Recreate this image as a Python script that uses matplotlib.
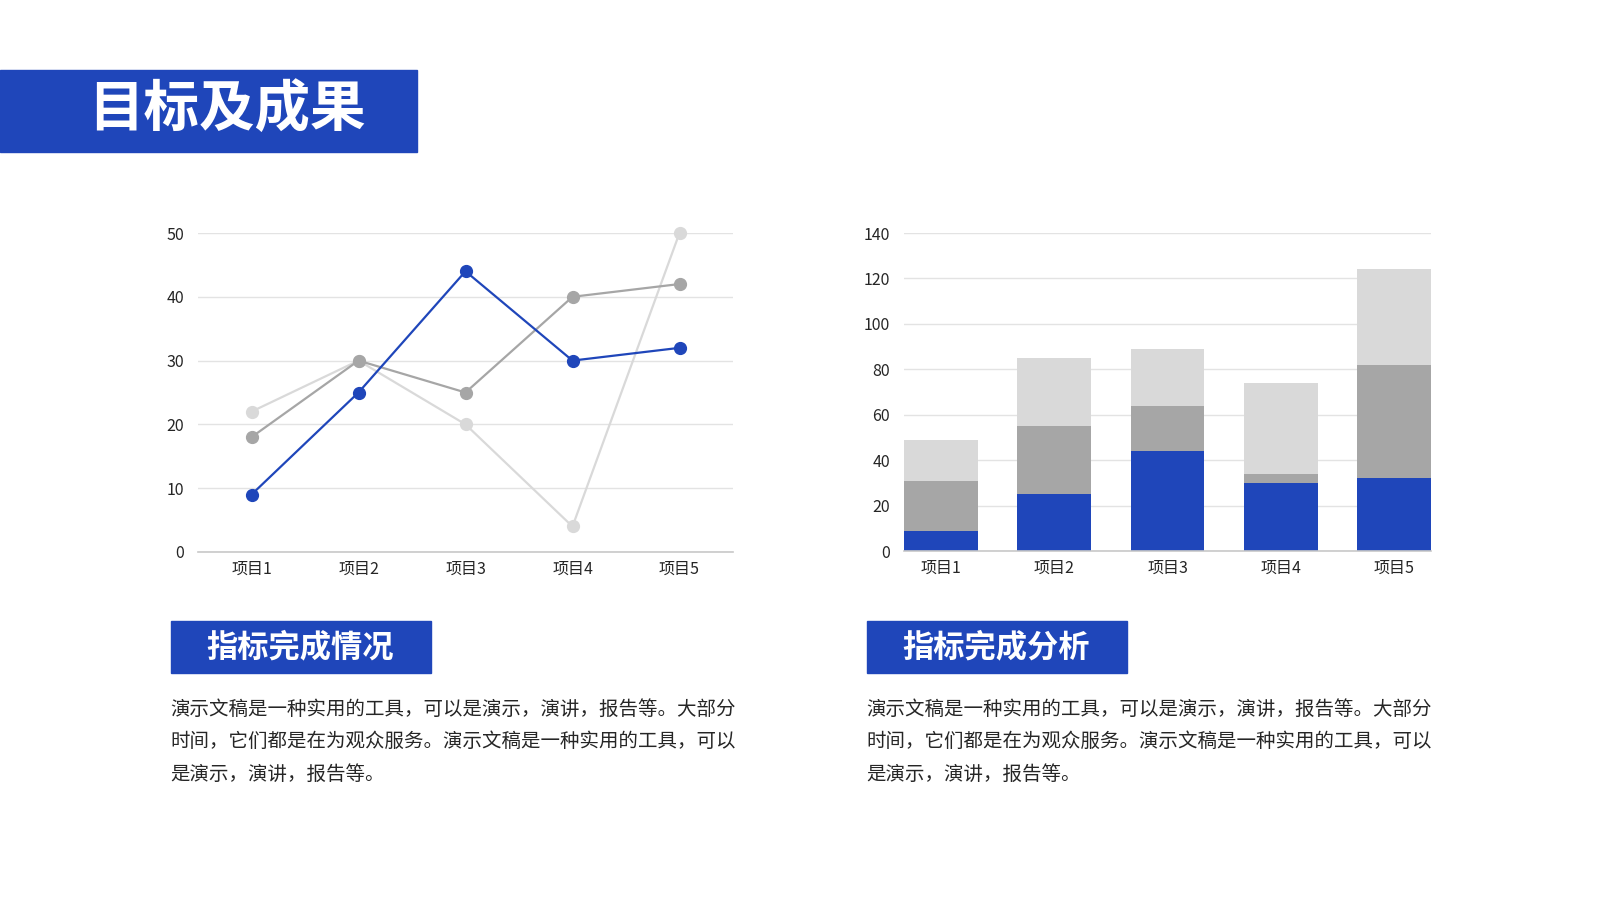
import numpy as np
import matplotlib.pyplot as plt
from matplotlib.patches import Rectangle

plt.rcParams['font.family'] = ['Noto Sans CJK SC', 'DejaVu Sans']

# datos
categories = ['项目1', '项目2', '项目3', '项目4', '项目5']
series_a = [9, 25, 44, 30, 32]
series_b = [22, 30, 20, 4, 50]
series_c = [18, 30, 25, 40, 42]

title = '目标及成果'
sub_left = '指标完成情况'
sub_right = '指标完成分析'
body_lines = ['演示文稿是一种实用的工具，可以是演示，演讲，报告等。大部分',
              '时间，它们都是在为观众服务。演示文稿是一种实用的工具，可以',
              '是演示，演讲，报告等。']

blue = '#1F46BA'
dark_gray = '#A6A6A6'
light_gray = '#D9D9D9'
grid_col = '#E3E3E3'
text_col = '#262626'

W, H = 1600, 900
fig = plt.figure(figsize=(16, 9), dpi=100)


def px_box(x0, y0, x1, y1):
    # coordenadas en pixeles (y desde arriba) -> fraccion de figura
    return [x0 / W, 1 - y1 / H, (x1 - x0) / W, (y1 - y0) / H]


# banda del titulo
fig.patches.append(Rectangle((0, 1 - 152 / H), 417 / W, 82 / H, transform=fig.transFigure,
                             color=blue, zorder=0))
fig.text(227 / W, 1 - 110 / H, title, color='white', fontsize=40, fontweight='bold',
         ha='center', va='center')


def style_axes(ax, ymax, step):
    ax.set_ylim(0, ymax)
    ax.set_yticks(np.arange(0, ymax + 1, step))
    ax.grid(axis='y', color=grid_col, lw=1)
    ax.set_axisbelow(True)
    for s in ['top', 'right', 'left']:
        ax.spines[s].set_visible(False)
    ax.spines['bottom'].set_color('#C8C8C8')
    ax.spines['bottom'].set_linewidth(1.2)
    ax.tick_params(length=0, labelsize=11.5, colors=text_col)
    ax.tick_params(axis='x', pad=6)
    ax.tick_params(axis='y', pad=10)


x = np.arange(len(categories))

# grafico de lineas
ax1 = fig.add_axes(px_box(198, 233, 733, 552))
for vals, col in [(series_b, light_gray), (series_c, dark_gray), (series_a, blue)]:
    ax1.plot(x, vals, '-o', color=col, lw=1.6, ms=8.5, clip_on=False, zorder=3)
ax1.set_xlim(-0.5, 4.5)
ax1.set_xticks(x)
ax1.set_xticklabels(categories)
style_axes(ax1, 50, 10)

# grafico de barras apiladas
ax2 = fig.add_axes(px_box(904, 233, 1431, 551))
bw = 0.65
ax2.bar(x, series_a, width=bw, color=blue)
ax2.bar(x, series_b, width=bw, bottom=series_a, color=dark_gray)
ax2.bar(x, series_c, width=bw, bottom=np.add(series_a, series_b), color=light_gray)
ax2.set_xlim(-bw / 2, 4 + bw / 2)
ax2.set_xticks(x)
ax2.set_xticklabels(categories)
style_axes(ax2, 140, 20)

# subtitulos y textos
for x0, sub in [(171, sub_left), (867, sub_right)]:
    fig.patches.append(Rectangle((x0 / W, 1 - 673 / H), 260 / W, 52 / H, transform=fig.transFigure,
                                 color=blue, zorder=0))
    fig.text((x0 + 129) / W, 1 - 647 / H, sub, color='white', fontsize=22.5, fontweight='bold',
             ha='center', va='center')
    for i, line in enumerate(body_lines):
        fig.text((x0 - 1) / W, 1 - (709 + 32.5 * i) / H, line, color=text_col, fontsize=14,
                 ha='left', va='center')

fig.savefig('out.png', dpi=100, facecolor='white')
